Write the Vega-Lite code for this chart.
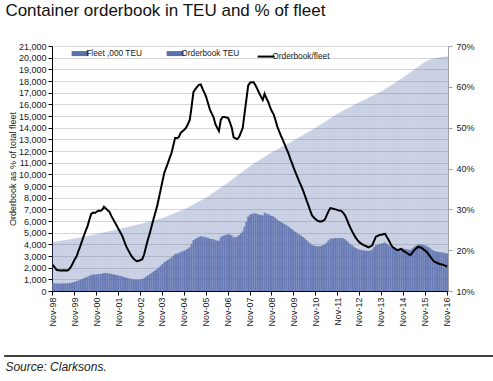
{
"$schema":"https://vega.github.io/schema/vega-lite/v6.json",
"padding":{"left":3,"top":2,"right":5,"bottom":3},
"config":{"font":"Liberation Sans","view":{"stroke":null}},
"title":{"text":"Container orderbook in TEU and % of fleet","anchor":"start","fontSize":17,"fontWeight":"normal","color":"#111111","dx":2,"offset":22},
"columns":1,
"center":true,
"spacing":28,
"concat":[
{
"width":396,"height":245,
"data":{"values":[
{"l":"Nov-98","f":4200,"o":689,"r":16.4},{"l":"Dec-98","f":4225,"o":668,"r":15.8},{"l":"Jan-99","f":4250,"o":646,"r":15.2},{"l":"Feb-99","f":4275,"o":646,"r":15.1},{"l":"Mar-99","f":4300,"o":645,"r":15.0},{"l":"Apr-99","f":4325,"o":649,"r":15.0},{"l":"May-99","f":4350,"o":657,"r":15.1},{"l":"Jun-99","f":4375,"o":656,"r":15.0},{"l":"Jul-99","f":4400,"o":660,"r":15.0},{"l":"Aug-99","f":4425,"o":681,"r":15.4},{"l":"Sep-99","f":4450,"o":712,"r":16.0},{"l":"Oct-99","f":4475,"o":756,"r":16.9},
{"l":"Nov-99","f":4500,"o":801,"r":17.8},{"l":"Dec-99","f":4532,"o":838,"r":18.5},{"l":"Jan-00","f":4563,"o":903,"r":19.8},{"l":"Feb-00","f":4595,"o":965,"r":21.0},{"l":"Mar-00","f":4627,"o":1032,"r":22.3},{"l":"Apr-00","f":4658,"o":1099,"r":23.6},{"l":"May-00","f":4690,"o":1163,"r":24.8},{"l":"Jun-00","f":4722,"o":1223,"r":25.9},{"l":"Jul-00","f":4753,"o":1307,"r":27.5},{"l":"Aug-00","f":4785,"o":1383,"r":28.9},{"l":"Sep-00","f":4817,"o":1407,"r":29.2},{"l":"Oct-00","f":4848,"o":1411,"r":29.1},
{"l":"Nov-00","f":4880,"o":1435,"r":29.4},{"l":"Dec-00","f":4915,"o":1460,"r":29.7},{"l":"Jan-01","f":4950,"o":1465,"r":29.6},{"l":"Feb-01","f":4985,"o":1491,"r":29.9},{"l":"Mar-01","f":5020,"o":1536,"r":30.6},{"l":"Apr-01","f":5055,"o":1527,"r":30.2},{"l":"May-01","f":5090,"o":1517,"r":29.8},{"l":"Jun-01","f":5125,"o":1507,"r":29.4},{"l":"Jul-01","f":5160,"o":1465,"r":28.4},{"l":"Aug-01","f":5195,"o":1434,"r":27.6},{"l":"Sep-01","f":5230,"o":1402,"r":26.8},{"l":"Oct-01","f":5265,"o":1369,"r":26.0},
{"l":"Nov-01","f":5300,"o":1330,"r":25.1},{"l":"Dec-01","f":5338,"o":1297,"r":24.3},{"l":"Jan-02","f":5375,"o":1263,"r":23.5},{"l":"Feb-02","f":5413,"o":1207,"r":22.3},{"l":"Mar-02","f":5450,"o":1150,"r":21.1},{"l":"Apr-02","f":5488,"o":1109,"r":20.2},{"l":"May-02","f":5525,"o":1072,"r":19.4},{"l":"Jun-02","f":5563,"o":1035,"r":18.6},{"l":"Jul-02","f":5600,"o":1008,"r":18.0},{"l":"Aug-02","f":5638,"o":992,"r":17.6},{"l":"Sep-02","f":5675,"o":982,"r":17.3},{"l":"Oct-02","f":5713,"o":994,"r":17.4},
{"l":"Nov-02","f":5750,"o":1012,"r":17.6},{"l":"Dec-02","f":5792,"o":1031,"r":17.8},{"l":"Jan-03","f":5833,"o":1108,"r":19.0},{"l":"Feb-03","f":5875,"o":1222,"r":20.8},{"l":"Mar-03","f":5917,"o":1331,"r":22.5},{"l":"Apr-03","f":5958,"o":1430,"r":24.0},{"l":"May-03","f":6000,"o":1542,"r":25.7},{"l":"Jun-03","f":6042,"o":1655,"r":27.4},{"l":"Jul-03","f":6083,"o":1764,"r":29.0},{"l":"Aug-03","f":6125,"o":1874,"r":30.6},{"l":"Sep-03","f":6167,"o":2010,"r":32.6},{"l":"Oct-03","f":6208,"o":2154,"r":34.7},
{"l":"Nov-03","f":6250,"o":2300,"r":36.8},{"l":"Dec-03","f":6313,"o":2456,"r":38.9},{"l":"Jan-04","f":6375,"o":2556,"r":40.1},{"l":"Feb-04","f":6438,"o":2659,"r":41.3},{"l":"Mar-04","f":6500,"o":2769,"r":42.6},{"l":"Apr-04","f":6563,"o":2874,"r":43.8},{"l":"May-04","f":6625,"o":3028,"r":45.7},{"l":"Jun-04","f":6688,"o":3177,"r":47.5},{"l":"Jul-04","f":6750,"o":3200,"r":47.4},{"l":"Aug-04","f":6813,"o":3250,"r":47.7},{"l":"Sep-04","f":6875,"o":3348,"r":48.7},{"l":"Oct-04","f":6938,"o":3406,"r":49.1},
{"l":"Nov-04","f":7000,"o":3465,"r":49.5},{"l":"Dec-04","f":7083,"o":3542,"r":50.0},{"l":"Jan-05","f":7167,"o":3648,"r":50.9},{"l":"Feb-05","f":7250,"o":3763,"r":51.9},{"l":"Mar-05","f":7333,"o":4041,"r":55.1},{"l":"Apr-05","f":7417,"o":4354,"r":58.7},{"l":"May-05","f":7500,"o":4455,"r":59.4},{"l":"Jun-05","f":7583,"o":4550,"r":60.0},{"l":"Jul-05","f":7667,"o":4638,"r":60.5},{"l":"Aug-05","f":7750,"o":4697,"r":60.6},{"l":"Sep-05","f":7833,"o":4661,"r":59.5},{"l":"Oct-05","f":7917,"o":4639,"r":58.6},
{"l":"Nov-05","f":8000,"o":4600,"r":57.5},{"l":"Dec-05","f":8108,"o":4541,"r":56.0},{"l":"Jan-06","f":8217,"o":4478,"r":54.5},{"l":"Feb-06","f":8325,"o":4454,"r":53.5},{"l":"Mar-06","f":8433,"o":4436,"r":52.6},{"l":"Apr-06","f":8542,"o":4348,"r":50.9},{"l":"May-06","f":8650,"o":4325,"r":50.0},{"l":"Jun-06","f":8758,"o":4309,"r":49.2},{"l":"Jul-06","f":8867,"o":4602,"r":51.9},{"l":"Aug-06","f":8975,"o":4721,"r":52.6},{"l":"Sep-06","f":9083,"o":4778,"r":52.6},{"l":"Oct-06","f":9192,"o":4826,"r":52.5},
{"l":"Nov-06","f":9300,"o":4873,"r":52.4},{"l":"Dec-06","f":9417,"o":4831,"r":51.3},{"l":"Jan-07","f":9533,"o":4767,"r":50.0},{"l":"Feb-07","f":9650,"o":4603,"r":47.7},{"l":"Mar-07","f":9767,"o":4629,"r":47.4},{"l":"Apr-07","f":9883,"o":4665,"r":47.2},{"l":"May-07","f":10000,"o":4770,"r":47.7},{"l":"Jun-07","f":10117,"o":4937,"r":48.8},{"l":"Jul-07","f":10233,"o":5106,"r":49.9},{"l":"Aug-07","f":10350,"o":5527,"r":53.4},{"l":"Sep-07","f":10467,"o":5945,"r":56.8},{"l":"Oct-07","f":10583,"o":6382,"r":60.3},
{"l":"Nov-07","f":10700,"o":6527,"r":61.0},{"l":"Dec-07","f":10800,"o":6599,"r":61.1},{"l":"Jan-08","f":10900,"o":6660,"r":61.1},{"l":"Feb-08","f":11000,"o":6644,"r":60.4},{"l":"Mar-08","f":11100,"o":6605,"r":59.5},{"l":"Apr-08","f":11200,"o":6552,"r":58.5},{"l":"May-08","f":11300,"o":6509,"r":57.6},{"l":"Jun-08","f":11400,"o":6475,"r":56.8},{"l":"Jul-08","f":11500,"o":6705,"r":58.3},{"l":"Aug-08","f":11600,"o":6635,"r":57.2},{"l":"Sep-08","f":11700,"o":6587,"r":56.3},{"l":"Oct-08","f":11800,"o":6490,"r":55.0},
{"l":"Nov-08","f":11900,"o":6426,"r":54.0},{"l":"Dec-08","f":11983,"o":6375,"r":53.2},{"l":"Jan-09","f":12067,"o":6251,"r":51.8},{"l":"Feb-09","f":12150,"o":6099,"r":50.2},{"l":"Mar-09","f":12233,"o":6006,"r":49.1},{"l":"Apr-09","f":12317,"o":5912,"r":48.0},{"l":"May-09","f":12400,"o":5828,"r":47.0},{"l":"Jun-09","f":12483,"o":5730,"r":45.9},{"l":"Jul-09","f":12567,"o":5630,"r":44.8},{"l":"Aug-09","f":12650,"o":5541,"r":43.8},{"l":"Sep-09","f":12733,"o":5412,"r":42.5},{"l":"Oct-09","f":12817,"o":5293,"r":41.3},
{"l":"Nov-09","f":12900,"o":5173,"r":40.1},{"l":"Dec-09","f":12992,"o":5067,"r":39.0},{"l":"Jan-10","f":13083,"o":4958,"r":37.9},{"l":"Feb-10","f":13175,"o":4848,"r":36.8},{"l":"Mar-10","f":13267,"o":4749,"r":35.8},{"l":"Apr-10","f":13358,"o":4635,"r":34.7},{"l":"May-10","f":13450,"o":4506,"r":33.5},{"l":"Jun-10","f":13542,"o":4360,"r":32.2},{"l":"Jul-10","f":13633,"o":4226,"r":31.0},{"l":"Aug-10","f":13725,"o":4076,"r":29.7},{"l":"Sep-10","f":13817,"o":3938,"r":28.5},{"l":"Oct-10","f":13908,"o":3894,"r":28.0},
{"l":"Nov-10","f":14000,"o":3864,"r":27.6},{"l":"Dec-10","f":14100,"o":3835,"r":27.2},{"l":"Jan-11","f":14200,"o":3834,"r":27.0},{"l":"Feb-11","f":14300,"o":3861,"r":27.0},{"l":"Mar-11","f":14400,"o":3917,"r":27.2},{"l":"Apr-11","f":14500,"o":3988,"r":27.5},{"l":"May-11","f":14600,"o":4161,"r":28.5},{"l":"Jun-11","f":14700,"o":4337,"r":29.5},{"l":"Jul-11","f":14800,"o":4484,"r":30.3},{"l":"Aug-11","f":14900,"o":4500,"r":30.2},{"l":"Sep-11","f":15000,"o":4515,"r":30.1},{"l":"Oct-11","f":15100,"o":4530,"r":30.0},
{"l":"Nov-11","f":15200,"o":4530,"r":29.8},{"l":"Dec-11","f":15283,"o":4539,"r":29.7},{"l":"Jan-12","f":15367,"o":4549,"r":29.6},{"l":"Feb-12","f":15450,"o":4511,"r":29.2},{"l":"Mar-12","f":15533,"o":4442,"r":28.6},{"l":"Apr-12","f":15617,"o":4310,"r":27.6},{"l":"May-12","f":15700,"o":4161,"r":26.5},{"l":"Jun-12","f":15783,"o":4025,"r":25.5},{"l":"Jul-12","f":15867,"o":3903,"r":24.6},{"l":"Aug-12","f":15950,"o":3796,"r":23.8},{"l":"Sep-12","f":16033,"o":3688,"r":23.0},{"l":"Oct-12","f":16117,"o":3610,"r":22.4},
{"l":"Nov-12","f":16200,"o":3548,"r":21.9},{"l":"Dec-12","f":16275,"o":3515,"r":21.6},{"l":"Jan-13","f":16350,"o":3483,"r":21.3},{"l":"Feb-13","f":16425,"o":3466,"r":21.1},{"l":"Mar-13","f":16500,"o":3449,"r":20.9},{"l":"Apr-13","f":16575,"o":3431,"r":20.7},{"l":"May-13","f":16650,"o":3480,"r":20.9},{"l":"Jun-13","f":16725,"o":3546,"r":21.2},{"l":"Jul-13","f":16800,"o":3746,"r":22.3},{"l":"Aug-13","f":16875,"o":3932,"r":23.3},{"l":"Sep-13","f":16950,"o":3983,"r":23.5},{"l":"Oct-13","f":17025,"o":4035,"r":23.7},
{"l":"Nov-13","f":17100,"o":4070,"r":23.8},{"l":"Dec-13","f":17200,"o":4111,"r":23.9},{"l":"Jan-14","f":17300,"o":4152,"r":24.0},{"l":"Feb-14","f":17400,"o":4037,"r":23.2},{"l":"Mar-14","f":17500,"o":3938,"r":22.5},{"l":"Apr-14","f":17600,"o":3802,"r":21.6},{"l":"May-14","f":17700,"o":3682,"r":20.8},{"l":"Jun-14","f":17800,"o":3649,"r":20.5},{"l":"Jul-14","f":17900,"o":3616,"r":20.2},{"l":"Aug-14","f":18000,"o":3600,"r":20.0},{"l":"Sep-14","f":18100,"o":3656,"r":20.2},{"l":"Oct-14","f":18200,"o":3695,"r":20.3},
{"l":"Nov-14","f":18300,"o":3623,"r":19.8},{"l":"Dec-14","f":18413,"o":3609,"r":19.6},{"l":"Jan-15","f":18525,"o":3575,"r":19.3},{"l":"Feb-15","f":18638,"o":3541,"r":19.0},{"l":"Mar-15","f":18750,"o":3525,"r":18.8},{"l":"Apr-15","f":18863,"o":3659,"r":19.4},{"l":"May-15","f":18975,"o":3795,"r":20.0},{"l":"Jun-15","f":19088,"o":3894,"r":20.4},{"l":"Jul-15","f":19200,"o":3994,"r":20.8},{"l":"Aug-15","f":19313,"o":3998,"r":20.7},{"l":"Sep-15","f":19425,"o":4002,"r":20.6},{"l":"Oct-15","f":19538,"o":3947,"r":20.2},
{"l":"Nov-15","f":19650,"o":3910,"r":19.9},{"l":"Dec-15","f":19720,"o":3845,"r":19.5},{"l":"Jan-16","f":19790,"o":3740,"r":18.9},{"l":"Feb-16","f":19850,"o":3633,"r":18.3},{"l":"Mar-16","f":19900,"o":3522,"r":17.7},{"l":"Apr-16","f":19940,"o":3430,"r":17.2},{"l":"May-16","f":19980,"o":3397,"r":17.0},{"l":"Jun-16","f":20010,"o":3362,"r":16.8},{"l":"Jul-16","f":20040,"o":3327,"r":16.6},{"l":"Aug-16","f":20060,"o":3310,"r":16.5},{"l":"Sep-16","f":20080,"o":3293,"r":16.4},{"l":"Oct-16","f":20090,"o":3255,"r":16.2},
{"l":"Nov-16","f":20100,"o":3216,"r":16.0}
]},
"layer":[
{"layer":[
{"mark":{"type":"bar","fillOpacity":0.33},
"encoding":{
"x":{"field":"l","type":"ordinal","sort":null,"scale":{"paddingInner":0,"paddingOuter":0},
"axis":{"title":null,"values":["Nov-98","Nov-99","Nov-00","Nov-01","Nov-02","Nov-03","Nov-04","Nov-05","Nov-06","Nov-07","Nov-08","Nov-09","Nov-10","Nov-11","Nov-12","Nov-13","Nov-14","Nov-15","Nov-16"],"labelAngle":-90,"labelFontSize":9,"labelColor":"#1a1a1a","labelOverlap":false,"domainColor":"#000000","tickColor":"#000000","tickSize":4,"labelPadding":2}},
"y":{"field":"f","type":"quantitative","scale":{"domain":[0,21000],"nice":false,"zero":true},
"axis":{"title":"Orderbook as % of total fleet","titleFontSize":9,"titleFontWeight":"normal","titleColor":"#1a1a1a","titlePadding":1,"values":[0,1000,2000,3000,4000,5000,6000,7000,8000,9000,10000,11000,12000,13000,14000,15000,16000,17000,18000,19000,20000,21000],"format":",d","labelFontSize":9,"labelColor":"#1a1a1a","domainColor":"#000000","tickColor":"#000000","tickSize":4,"labelPadding":2,"gridColor":"#d6d6d6","labelOverlap":false}},
"color":{"datum":"Fleet ,000 TEU","scale":{"domain":["Fleet ,000 TEU","Orderbook TEU","Orderbook/fleet"],"range":["#5b70ae","#5b70ae","#000000"]},
"legend":{"orient":"none","legendX":72,"legendY":3,"direction":"horizontal","title":null,"symbolType":"stroke","symbolSize":289,"labelFontSize":8.3,"labelColor":"#1a1a1a","labelOffset":2,"columnPadding":13,"symbolStrokeWidth":5,
"encode":{"symbols":{"update":{"strokeWidth":{"signal":"datum.value === 'Orderbook/fleet' ? 2 : 5"}}}}}}
}},
{"mark":{"type":"bar","fillOpacity":0.88},
"encoding":{
"x":{"field":"l","type":"ordinal","sort":null},
"y":{"field":"o","type":"quantitative","scale":{"domain":[0,21000],"nice":false,"zero":true},
"axis":{"title":"Orderbook as % of total fleet","titleFontSize":9,"titleFontWeight":"normal","titleColor":"#1a1a1a","titlePadding":1,"values":[0,1000,2000,3000,4000,5000,6000,7000,8000,9000,10000,11000,12000,13000,14000,15000,16000,17000,18000,19000,20000,21000],"format":",d","labelFontSize":9,"labelColor":"#1a1a1a","domainColor":"#000000","tickColor":"#000000","tickSize":4,"labelPadding":2,"gridColor":"#d6d6d6","labelOverlap":false}},
"color":{"datum":"Orderbook TEU"}
}}
]},
{"mark":{"type":"line","strokeWidth":2},
"encoding":{
"x":{"field":"l","type":"ordinal","sort":null},
"y":{"field":"r","type":"quantitative","scale":{"domain":[10,70],"nice":false,"zero":false},
"axis":{"orient":"right","title":null,"values":[10,20,30,40,50,60,70],"labelExpr":"datum.value + '%'","labelFontSize":9,"labelColor":"#1a1a1a","domainColor":"#a0a0a0","tickColor":"#a0a0a0","tickSize":4,"labelPadding":4,"grid":false}},
"color":{"datum":"Orderbook/fleet"}
}}
],
"resolve":{"scale":{"y":"independent"}}
},
{
"width":517,"height":1,
"data":{"values":[{"a":0,"b":1,"y":0}]},
"mark":{"type":"rule","color":"#000000","strokeWidth":1.5},
"encoding":{
"x":{"field":"a","type":"quantitative","axis":null,"scale":{"domain":[0,1]}},
"x2":{"field":"b"},
"y":{"field":"y","type":"quantitative","axis":null,"scale":{"domain":[0,1]}}
},
"title":{"text":"Source: Clarksons.","orient":"bottom","anchor":"start","fontSize":12,"fontStyle":"italic","fontWeight":"normal","color":"#222222","dx":2,"offset":5}
}
]
}
